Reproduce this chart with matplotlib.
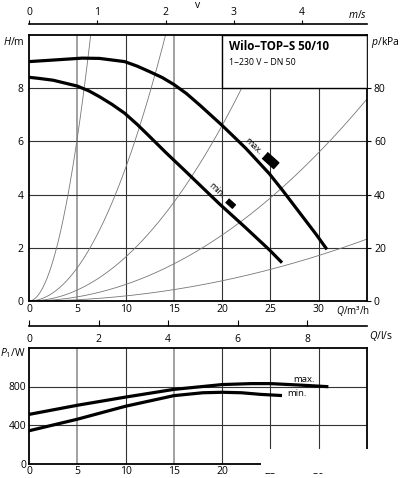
import numpy as np
import matplotlib.pyplot as plt
from matplotlib.patches import Rectangle

plt.rcParams['font.family'] = ['Open Sans', 'DejaVu Sans']
plt.rcParams['mathtext.fontset'] = 'custom'
plt.rcParams['mathtext.it'] = 'Open Sans:italic'
plt.rcParams['mathtext.rm'] = 'Open Sans'

# pump curves H(Q)
q_hmax = [0, 3, 5.5, 7.3, 9.9, 11.2, 12.5, 13.8, 15, 16.3, 17.7, 20, 21.8, 22.5, 24.9, 26.3, 28, 29.7, 30.85]
h_max = [9.0, 9.07, 9.13, 9.12, 9.0, 8.83, 8.62, 8.4, 8.14, 7.8, 7.36, 6.6, 5.97, 5.72, 4.78, 4.14, 3.33, 2.52, 1.94]
q_hmin = [0, 1, 2.5, 5, 6.2, 7.3, 8.6, 9.9, 11.2, 12.5, 14.2, 16, 19.75, 22.3, 24.9, 26.2]
h_min = [8.41, 8.37, 8.3, 8.08, 7.9, 7.68, 7.39, 7.06, 6.64, 6.18, 5.57, 4.95, 3.64, 2.8, 1.92, 1.44]

# power curves P1(Q)
q_pmax = [0, 5, 10, 15, 20, 23, 25, 28, 31]
p_max = [510, 605, 690, 770, 820, 830, 830, 815, 798]
q_pmin = [0, 5, 10, 15, 18, 20, 22, 24, 26.2]
p_min = [340, 460, 595, 705, 735, 740, 735, 718, 706]

# system curves H = k * Q^2
k_sys = [0.245, 0.05, 0.0165, 0.0062, 0.0019]

q_ticks = [0, 5, 10, 15, 20, 25, 30]
h_ticks = [0, 2, 4, 6, 8]
kpa_ticks = [0, 20, 40, 60, 80]
v_ticks = [0, 1, 2, 3, 4]
ls_ticks = [0, 2, 4, 6, 8]
p_ticks = [0, 400, 800]

area = np.pi * 0.025 ** 2        # DN 50
q_per_v = area * 3600            # m3/h per m/s

W, H = 400, 478
fig = plt.figure(figsize=(4, 4.78), dpi=100)


def fx(px):
    return px / W


def fy(py):
    return 1 - py / H


ax = fig.add_axes([fx(29), fy(301), fx(338), 266 / H])
ax2 = fig.add_axes([fx(29), fy(463.5), fx(338), 115.5 / H])


def grid(a, hvals):
    for q in q_ticks[1:]:
        if q in (5, 15):
            a.axvline(q, color='#9a9a9a', lw=1.3, zorder=1)
        else:
            a.axvline(q, color='#333333', lw=0.8, zorder=1)
    for h in hvals:
        a.axhline(h, color='#333333', lw=0.8, zorder=1)


# ---- main H chart ----
ax.set_xlim(0, 35)
ax.set_ylim(0, 10)
grid(ax, h_ticks[1:])
qq = np.linspace(0, 35, 300)
for k in k_sys:
    ax.plot(qq, k * qq ** 2, color='#777777', lw=0.6, zorder=2)
ax.plot(q_hmax, h_max, color='black', lw=2.3, zorder=4, solid_capstyle='butt',
        solid_joinstyle='round')
ax.plot(q_hmin, h_min, color='black', lw=2.3, zorder=4, solid_capstyle='butt',
        solid_joinstyle='round')

box = Rectangle((20, 8), 15, 2, facecolor='white', edgecolor='black', lw=1.0, zorder=5)
ax.add_patch(box)
ax.text(0.592, 0.955, 'Wilo\u2013TOP\u2013S 50/10', transform=ax.transAxes,
        fontsize=8.3, fontweight='bold', va='center', ha='left', zorder=6)
ax.text(0.592, 0.898, '1~230 V \u2013 DN 50', transform=ax.transAxes,
        fontsize=6.3, va='center', ha='left', zorder=6)

ang = np.deg2rad(-42)
rect = np.array([[-2, -1], [2, -1], [2, 1], [-2, 1]], dtype=float)
rot = np.array([[np.cos(ang), -np.sin(ang)], [np.sin(ang), np.cos(ang)]])
mk = rect @ rot.T
ax.plot([25.0], [5.3], marker=mk, markersize=12, color='black', zorder=6, ls='none')
ax.plot([20.8], [3.68], marker=mk, markersize=7, color='black', zorder=6, ls='none')
ax.text(23.2, 5.8, 'max.', rotation=-44, fontsize=6.5, ha='center', va='center', zorder=6)
ax.text(19.4, 4.15, 'min.', rotation=-43, fontsize=6.5, ha='center', va='center', zorder=6)

ax.set_xticks(q_ticks)
ax.set_yticks(h_ticks)
ax.tick_params(axis='both', length=0, labelsize=7.5, pad=2)
ax.tick_params(axis='y', pad=4)
for s in ax.spines.values():
    s.set_linewidth(1.3)

axr = ax.twinx()
axr.set_ylim(0, 100)
axr.set_yticks(kpa_ticks)
axr.tick_params(axis='y', length=3, width=0.8, labelsize=7.5, pad=2)
for s in axr.spines.values():
    s.set_visible(False)

fig.text(fx(14), fy(42), '$H$/m', fontsize=7.5, ha='center', va='center')
fig.text(fx(385), fy(42), '$p$/kPa', fontsize=7.5, ha='center', va='center')
fig.text(fx(353), fy(311), '$Q$/m\u00b3/h', fontsize=7, ha='center', va='center')

# ---- velocity scale on top ----
axv = fig.add_axes([fx(29), fy(24), fx(338), 0.0001])
axv.set_xlim(0, 35 / q_per_v)
axv.set_xticks(v_ticks)
axv.set_yticks([])
for side in ('left', 'right', 'bottom'):
    axv.spines[side].set_visible(False)
axv.spines['top'].set_linewidth(1.2)
axv.tick_params(axis='x', top=True, bottom=False, labeltop=True, labelbottom=False,
                direction='out', length=3, width=0.8, labelsize=7.5, pad=1.5)
axv.patch.set_visible(False)
fig.text(fx(358), fy(15), '$m$/$s$', fontsize=7.5, ha='center', va='center')
fig.text(fx(198), fy(5), 'v', fontsize=7.5, ha='center', va='center')

# ---- l/s scale ----
axl = fig.add_axes([fx(29), fy(326), fx(338), 0.0001])
axl.set_xlim(0, 35 / 3.6)
axl.set_xticks(ls_ticks)
axl.set_yticks([])
for side in ('left', 'right', 'bottom'):
    axl.spines[side].set_visible(False)
axl.spines['top'].set_linewidth(1.2)
axl.tick_params(axis='x', top=True, bottom=False, labeltop=False, labelbottom=True,
                direction='out', length=4, width=0.8, labelsize=7.5, pad=1.5)
axl.patch.set_visible(False)
fig.text(fx(381), fy(336), '$Q$/l/s', fontsize=7.5, ha='center', va='center')

# ---- power chart ----
ax2.set_xlim(0, 35)
ax2.set_ylim(0, 1200)
grid(ax2, p_ticks[1:])
ax2.plot(q_pmax, p_max, color='black', lw=2.3, zorder=4, solid_capstyle='butt',
         solid_joinstyle='round')
ax2.plot(q_pmin, p_min, color='black', lw=2.3, zorder=4, solid_capstyle='butt',
         solid_joinstyle='round')
ax2.text(28.5, 877, 'max.', fontsize=6.8, ha='center', va='center')
ax2.text(27.7, 725, 'min.', fontsize=6.8, ha='center', va='center')
ax2.set_xticks(q_ticks)
ax2.set_yticks(p_ticks)
ax2.tick_params(axis='both', length=0, labelsize=7.5, pad=2)
for s in ax2.spines.values():
    s.set_linewidth(1.3)
fig.text(fx(13), fy(353), '$P_1$/W', fontsize=7.5, ha='center', va='center')

# white patch over the lower right corner, as in the source image
fig.patches.append(Rectangle((fx(261), fy(473)), fx(139), (473 - 449) / H,
                             transform=fig.transFigure, facecolor='white',
                             edgecolor='none', zorder=10))

fig.savefig('out.png', dpi=100)
